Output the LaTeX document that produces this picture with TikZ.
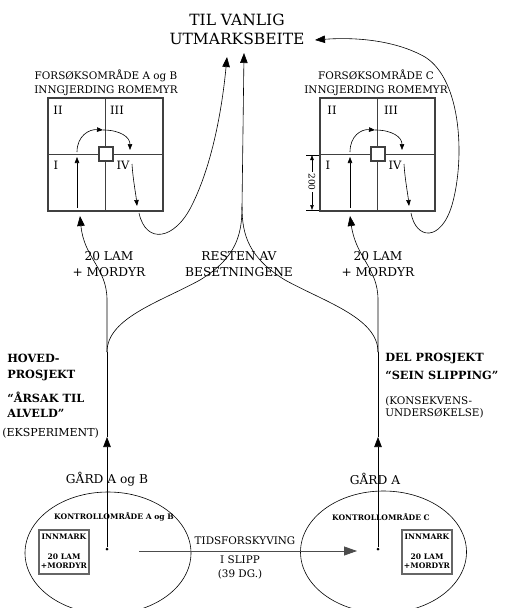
\documentclass[tikz,border=0pt]{standalone}
\usepackage{fontspec}
\setmainfont{DejaVu Serif}
\usetikzlibrary{arrows.meta,shapes.geometric}
\begin{document}
\begin{tikzpicture}[x=1pt,y=-1pt,line width=0.6pt,
  bigtip/.style={-{Triangle[length=10pt,width=7.5pt]}},
  smalltip/.style={-{Triangle[length=6pt,width=4.5pt]}},
  txt/.style={inner sep=0pt,align=center},
  ttl/.style={txt,font=\fontsize{15.5}{19}\selectfont},
  mid/.style={txt,font=\fontsize{12.2}{16}\selectfont},
  sml/.style={txt,font=\fontsize{10.4}{14}\selectfont},
  bld/.style={inner sep=0pt,anchor=west,font=\bfseries\fontsize{11.3}{13}\selectfont},
  tiny/.style={txt,font=\bfseries\fontsize{7.6}{9}\selectfont},
  rom/.style={txt,font=\fontsize{11.5}{13}\selectfont},
  field/.style={draw=black!75,line width=1.1pt,minimum width=115pt,minimum height=113pt,inner sep=0pt},
  sq/.style={draw=black!75,line width=1.1pt,fill=white,minimum size=14pt,inner sep=0pt},
  farm/.style={draw,ellipse,minimum width=166pt,minimum height=122pt,inner sep=0pt},
  inbox/.style={draw=black!60,line width=1.2pt,minimum width=50pt,minimum height=44pt,inner sep=0pt},
  dot/.style={circle,fill,inner sep=0pt,minimum size=3pt}]
\useasboundingbox[fill=white] (0,0) rectangle (507,608);

% title
\node[ttl] (title) at (237,29.5) {TIL VANLIG\\UTMARKSBEITE};
\coordinate (TL) at (227,57);
\coordinate (TC) at (244,53);
\coordinate (TR) at (315,40);

% fields
\node[field] (boxA) at (105.5,154.5) {};
\draw[black!75,line width=1.1pt] (boxA.north) -- (boxA.south) (boxA.west) -- (boxA.east);
\node[sq] (sqA) at (106,154) {};
\node[field] (boxC) at (377.5,154.5) {};
\draw[black!75,line width=1.1pt] (boxC.north) -- (boxC.south) (boxC.west) -- (boxC.east);
\node[sq] (sqC) at (378,154) {};

\node[sml] (labA) at (106,83) {FORSØKSOMRÅDE A og B\\INNGJERDING ROMEMYR};
\node[sml] (labC) at (376,83) {FORSØKSOMRÅDE C\\INNGJERDING ROMEMYR};

\node[rom] (A2) at (58,110) {II};
\node[rom] (A3) at (117,110) {III};
\node[rom] (A1) at (56,165) {I};
\node[rom] (A4) at (123,165) {IV};
\node[rom] (C2) at (332,110) {II};
\node[rom] (C3) at (391,110) {III};
\node[rom] (C1) at (328,165) {I};
\node[rom] (C4) at (395,165) {IV};

% dimension
\coordinate (d1) at (312,155);
\coordinate (d2) at (312,210);
\draw[line width=0.5pt] (306,155) -- (319,155) (306,210) -- (319,210);
\draw[line width=0.5pt,{Triangle[length=5pt,width=3.5pt]}-{Triangle[length=5pt,width=3.5pt]}] (d1) -- (d2);
\node[txt,fill=white,rotate=-90,font=\fontsize{9}{10}\selectfont,inner sep=1pt] (dim) at (312,182) {200};

% loops inside fields
\coordinate (a0) at (77,208);
\coordinate (a1) at (77,157);
\coordinate (a2) at (77,152);
\coordinate (a3) at (103,130);
\coordinate (a4) at (130,150);
\coordinate (a5) at (132,164);
\coordinate (a6) at (137,206);
\coordinate (a7) at (139,213);
\draw[smalltip] (a0) -- (a1);
\draw[smalltip] (a2) .. controls (77,136) and (89,129) .. (a3);
\draw[smalltip] (a3) .. controls (120,130) and (130,137) .. (a4);
\draw[smalltip] (a5) .. controls (133,180) and (136,195) .. (a6);
\draw[bigtip] (a7) .. controls (146,245) and (175,240) .. (192,205)
  .. controls (212,165) and (222,110) .. (TL);

\coordinate (c0) at (350,208);
\coordinate (c1) at (350,157);
\coordinate (c2) at (350,152);
\coordinate (c3) at (375,130);
\coordinate (c4) at (402,150);
\coordinate (c5) at (404,164);
\coordinate (c6) at (409,206);
\coordinate (c7) at (411,213);
\draw[smalltip] (c0) -- (c1);
\draw[smalltip] (c2) .. controls (350,136) and (361,129) .. (c3);
\draw[smalltip] (c3) .. controls (392,130) and (402,137) .. (c4);
\draw[smalltip] (c5) .. controls (405,180) and (408,195) .. (c6);
\draw[bigtip] (c7) .. controls (416,240) and (441,242) .. (452,205)
  .. controls (465,160) and (462,80) .. (425,57)
  .. controls (395,40) and (355,37) .. (TR);

% central stem and branches
\coordinate (cj) at (242,207);
\coordinate (jA) at (107,352);
\coordinate (jC) at (378,352);
\draw[bigtip] (cj) -- (TC);
\draw (jA) .. controls (107,318) and (160,302) .. (200,280)
  .. controls (236,258) and (242,235) .. (cj);
\draw (jC) .. controls (378,318) and (325,302) .. (285,280)
  .. controls (249,258) and (242,235) .. (cj);

% outer branches
\coordinate (uA) at (107,300);
\coordinate (uC) at (378,300);
\coordinate (bA) at (80,216);
\coordinate (bC) at (350,216);
\draw[bigtip] (jA) -- (uA) .. controls (107,268) and (84,258) .. (bA);
\draw[bigtip] (jC) -- (uC) .. controls (378,268) and (356,258) .. (bC);

% labels along branches
\node[mid] (lamA) at (109,264) {20 LAM\\+ MORDYR};
\node[mid] (rest) at (239,264) {RESTEN AV\\BESETNINGENE};
\node[mid] (lamC) at (378,264) {20 LAM\\+ MORDYR};

% project labels
\node[bld] (h1) at (7,358) {HOVED-};
\node[bld] (h2) at (7,375) {PROSJEKT};
\node[bld] (h3) at (7,397) {“ÅRSAK TIL};
\node[bld] (h4) at (7,413) {ALVELD”};
\node[sml,anchor=west,font=\fontsize{11}{13}\selectfont] (h5) at (2,433) {(EKSPERIMENT)};
\node[bld] (p1) at (385,358) {DEL PROSJEKT};
\node[bld] (p2) at (385,375) {“SEIN SLIPPING”};
\node[sml,anchor=west] (p3) at (385,401) {(KONSEKVENS-};
\node[sml,anchor=west] (p4) at (385,413) {UNDERSØKELSE)};

% farms
\node[farm] (ellA) at (108,553) {};
\node[farm] (ellC) at (383.5,552) {};
\node[dot] (dA) at (107,549) {};
\node[dot] (dC) at (378,549) {};
\coordinate (tA) at (107,437);
\coordinate (tC) at (378,437);
\draw[bigtip] (dA) -- (tA);
\draw (tA) -- (jA);
\draw[bigtip] (dC) -- (tC);
\draw (tC) -- (jC);

\node[mid] (gA) at (107,479) {GÅRD A og B};
\node[mid] (gC) at (375,479) {GÅRD A};
\node[tiny] (kA) at (114,517) {KONTROLLOMRÅDE A og B};
\node[tiny] (kC) at (381,517) {KONTROLLOMRÅDE C};

\node[inbox] (iA) at (64,552) {};
\node[tiny] (iA1) at (64,537) {INNMARK};
\node[tiny] (iA2) at (64,561) {20 LAM\\+MORDYR};
\node[inbox] (iC) at (427,552) {};
\node[tiny] (iC1) at (427,537) {INNMARK};
\node[tiny] (iC2) at (427,561) {20 LAM\\+MORDYR};

% time shift
\coordinate (s0) at (139,551);
\coordinate (s1) at (357,551);
\draw[black!70,line width=0.8pt,-{Triangle[length=13pt,width=9pt]}] (s0) -- (s1);
\node[sml] (ts) at (245,541) {TIDSFORSKYVING};
\node[sml] (ts2) at (240,567.5) {I SLIPP\\(39 DG.)};
\end{tikzpicture}
\end{document}
